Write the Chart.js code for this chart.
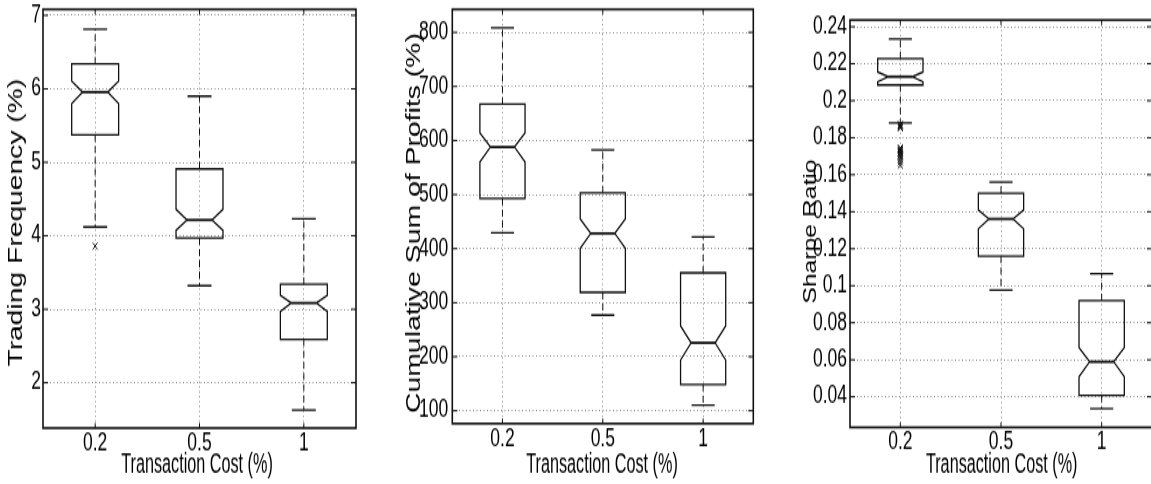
<!DOCTYPE html>
<html>
<head>
<meta charset="utf-8">
<script src="https://cdn.jsdelivr.net/npm/chart.js@4.4.1/dist/chart.umd.min.js"></script>
<style>
  html, body { margin: 0; padding: 0; background: #fff; overflow: hidden; }
  body { width: 1151px; height: 484px; position: relative; }
  /* figure is drawn at 346px high and stretched to fill 484px */
  canvas { position: absolute; top: 0; transform-origin: 0 0; transform: scaleY(1.3988); }
</style>
</head>
<body>
<canvas id="tf" width="370" height="346" style="left:0px"></canvas>
<canvas id="cp" width="395" height="346" style="left:375px"></canvas>
<canvas id="sr" width="380" height="346" style="left:780px"></canvas>
<script>
const categories = ['0.2', '0.5', '1'];
const xTitle = 'Transaction Cost (%)';

// Trading frequency (%)
const tfWhiskerHi = [6.81, 5.90, 4.23];
const tfQ3        = [6.34, 4.91, 3.34];
const tfNotchHi   = [6.105, 4.36, 3.19];
const tfMedian    = [5.955, 4.215, 3.085];
const tfNotchLo   = [5.80, 4.075, 2.97];
const tfQ1        = [5.373, 3.97, 2.59];
const tfWhiskerLo = [4.12, 3.32, 1.63];
const tfOutliers  = [[3.86], [], []];
const tfTicks     = [2, 3, 4, 5, 6, 7];

// Cumulative sum of profits (%)
const cpWhiskerHi = [808.5, 582.8, 421.3];
const cpQ3        = [667.3, 503.2, 355.2];
const cpNotchHi   = [614.2, 455.1, 257.2];
const cpMedian    = [587.8, 428.1, 225.7];
const cpNotchLo   = [560.0, 400.4, 193.7];
const cpQ1        = [492.9, 319.0, 148.8];
const cpWhiskerLo = [429.2, 277.0, 110.5];
const cpOutliers  = [[], [], []];
const cpTicks     = [100, 200, 300, 400, 500, 600, 700, 800];

// Sharpe ratio
const srWhiskerHi = [0.2334, 0.1561, 0.1065];
const srQ3        = [0.2227, 0.1500, 0.0919];
const srNotchHi   = [0.2155, 0.1409, 0.0665];
const srMedian    = [0.2130, 0.1361, 0.0589];
const srNotchLo   = [0.2103, 0.1308, 0.0508];
const srQ1        = [0.2085, 0.1159, 0.0408];
const srWhiskerLo = [0.1880, 0.0977, 0.0335];
const srOutliers  = [[0.1872, 0.1866, 0.1860, 0.1853, 0.1745, 0.1738, 0.1731, 0.1725,
                     0.1719, 0.1712, 0.1705, 0.1696, 0.1683, 0.1668, 0.1652], [], []];
const srTicks     = [0.04, 0.06, 0.08, 0.1, 0.12, 0.14, 0.16, 0.18, 0.2, 0.22, 0.24];

const INK = '#111';
const GRID = '#8c8c8c';
const FONT = "'Liberation Sans', Arial, sans-serif";

// notched boxes, whiskers, the closed frame with inward ticks, and axis titles
function notchBoxes(s, g) {
  return {
    id: 'notchBoxes',
    beforeDatasetsDraw(chart) {
      const {ctx, scales: {x, y}} = chart;
      const step = x.getPixelForValue(1) - x.getPixelForValue(0);
      const bw = 0.225 * step, nw = 0.12 * step, cw = 0.115 * step;
      ctx.save();
      ctx.strokeStyle = INK;
      s.median.forEach((m, i) => {
        const cx = x.getPixelForValue(i);
        const py = v => y.getPixelForValue(v);
        // whiskers
        ctx.lineWidth = 1;
        ctx.setLineDash([5, 3]);
        ctx.beginPath();
        ctx.moveTo(cx, py(s.q3[i])); ctx.lineTo(cx, py(s.hi[i]));
        ctx.moveTo(cx, py(s.q1[i])); ctx.lineTo(cx, py(s.lo[i]));
        ctx.stroke();
        ctx.setLineDash([]);
        ctx.lineWidth = 1.3;
        ctx.beginPath();
        ctx.moveTo(cx - cw, py(s.hi[i])); ctx.lineTo(cx + cw, py(s.hi[i]));
        ctx.moveTo(cx - cw, py(s.lo[i])); ctx.lineTo(cx + cw, py(s.lo[i]));
        ctx.stroke();
        // notched box
        ctx.beginPath();
        ctx.moveTo(cx - bw, py(s.q3[i]));
        ctx.lineTo(cx + bw, py(s.q3[i]));
        ctx.lineTo(cx + bw, py(s.nHi[i]));
        ctx.lineTo(cx + nw, py(m));
        ctx.lineTo(cx + bw, py(s.nLo[i]));
        ctx.lineTo(cx + bw, py(s.q1[i]));
        ctx.lineTo(cx - bw, py(s.q1[i]));
        ctx.lineTo(cx - bw, py(s.nLo[i]));
        ctx.lineTo(cx - nw, py(m));
        ctx.lineTo(cx - bw, py(s.nHi[i]));
        ctx.closePath();
        ctx.stroke();
        ctx.lineWidth = 1.8;
        ctx.beginPath();
        ctx.moveTo(cx - nw, py(m)); ctx.lineTo(cx + nw, py(m));
        ctx.stroke();
      });
      ctx.restore();
    },
    afterDraw(chart) {
      const {ctx, chartArea: a, scales: {x, y}} = chart;
      ctx.save();
      ctx.strokeStyle = INK;
      ctx.lineWidth = 1;
      ctx.beginPath();
      y.ticks.forEach(t => {
        const p = y.getPixelForValue(t.value);
        ctx.moveTo(a.left, p); ctx.lineTo(a.left + 5, p);
        ctx.moveTo(a.right - 5, p); ctx.lineTo(a.right, p);
      });
      x.ticks.forEach((t, i) => {
        const p = x.getPixelForValue(i);
        ctx.moveTo(p, a.bottom); ctx.lineTo(p, a.bottom - 3.6);
        ctx.moveTo(p, a.top); ctx.lineTo(p, a.top + 3.6);
      });
      ctx.stroke();
      ctx.lineWidth = 1.6;
      ctx.strokeRect(a.left, a.top, a.right - a.left, a.bottom - a.top);

      // axis titles
      ctx.fillStyle = '#000';
      ctx.textAlign = 'center';
      ctx.save();
      ctx.translate(g.yTitleX, g.yTitleY);
      ctx.rotate(-Math.PI / 2);
      ctx.textBaseline = 'middle';
      ctx.font = g.yTitleSize + 'px ' + FONT;
      ctx.fillText(g.yTitle, 0, 0);
      ctx.restore();
      ctx.translate(g.xTitleX, 338.4);
      ctx.scale(0.81, 1);
      ctx.textBaseline = 'alphabetic';
      ctx.font = '20px ' + FONT;
      ctx.fillText(xTitle, 0, 0);
      ctx.restore();
    }
  };
}

function boxPanel(id, s, outliers, yTicks, yMin, yMax, g) {
  return new Chart(document.getElementById(id), {
    type: 'line',
    data: {
      labels: categories,
      datasets: [{
        data: outliers.flatMap((vals, i) => vals.map(v => ({x: categories[i], y: v}))),
        showLine: false,
        pointStyle: 'crossRot',
        pointRadius: 3.5,
        pointBorderWidth: 1,
        pointBorderColor: INK,
        pointBackgroundColor: 'transparent'
      }]
    },
    options: {
      responsive: false,
      animation: false,
      layout: {autoPadding: false, padding: {top: g.top, right: g.right, left: 0, bottom: 0}},
      plugins: {legend: {display: false}, tooltip: {enabled: false}},
      scales: {
        x: {
          type: 'category',
          offset: true,
          grid: {offset: false, color: GRID, drawTicks: false},
          border: {display: false, dash: [1, 2.5]},
          ticks: {color: '#000', padding: 0.5, font: {family: FONT, size: 17.5}},
          afterFit: sc => { sc.height = g.xAxis; sc.paddingLeft = 0; sc.paddingRight = 0; }
        },
        y: {
          min: yMin,
          max: yMax,
          grid: {color: GRID, drawTicks: false},
          border: {display: false, dash: [1, 2.5]},
          afterBuildTicks: sc => { sc.ticks = yTicks.map(v => ({value: v})); },
          ticks: {color: '#000', padding: g.tickPad, font: {family: FONT, size: 17.5},
                  callback: v => String(v)},
          afterFit: sc => { sc.width = g.yAxis; sc.paddingTop = 0; sc.paddingBottom = 0; }
        }
      }
    },
    plugins: [notchBoxes(s, g)]
  });
}

boxPanel('tf',
  {hi: tfWhiskerHi, q3: tfQ3, nHi: tfNotchHi, median: tfMedian, nLo: tfNotchLo, q1: tfQ1, lo: tfWhiskerLo},
  tfOutliers, tfTicks, 1.383, 7.082,
  {top: 6.65, right: 14, xAxis: 40, yAxis: 43, tickPad: 2,
   yTitle: 'Trading Frequency (%)', yTitleSize: 20.2, yTitleX: 16.9, yTitleY: 159.1, xTitleX: 197});

boxPanel('cp',
  {hi: cpWhiskerHi, q3: cpQ3, nHi: cpNotchHi, median: cpMedian, nLo: cpNotchLo, q1: cpQ1, lo: cpWhiskerLo},
  cpOutliers, cpTicks, 76.3, 842.6,
  {top: 6.65, right: 16.7, xAxis: 43.2, yAxis: 77.3, tickPad: 4,
   yTitle: 'Cumulative Sum of Profits (%)', yTitleSize: 20.3, yTitleX: 39.6, yTitleY: 159.4, xTitleX: 227});

boxPanel('sr',
  {hi: srWhiskerHi, q3: srQ3, nHi: srNotchHi, median: srMedian, nLo: srNotchLo, q1: srQ1, lo: srWhiskerLo},
  srOutliers, srTicks, 0.02346, 0.2436,
  {top: 14.3, right: 8, xAxis: 40.5, yAxis: 70, tickPad: 3,
   yTitle: 'Sharpe Ratio', yTitleSize: 17.7, yTitleX: 30.8, yTitleY: 165.5, xTitleX: 221.7});
</script>
</body>
</html>
